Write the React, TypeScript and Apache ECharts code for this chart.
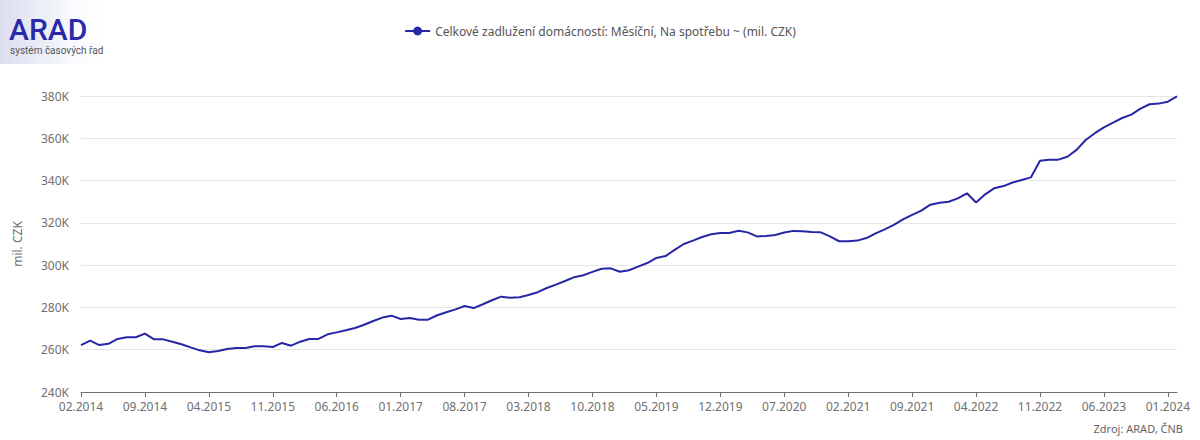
import React, { useEffect, useRef } from "react";
import * as echarts from "echarts";

const startYear = 2014;
const startMonth = 2;
const values: number[] = [
  262.2, 264.3, 262.2, 262.8, 265.1, 265.9, 265.9, 267.6, 264.9, 264.9,
  263.8, 262.6, 261.1, 259.7, 258.8, 259.4, 260.3, 260.8, 260.8, 261.6,
  261.6, 261.3, 263.2, 261.9, 263.8, 265.1, 265.1, 267.3, 268.2, 269.2,
  270.3, 271.8, 273.6, 275.2, 276.1, 274.5, 275.0, 274.2, 274.2, 276.3,
  277.7, 279.1, 280.7, 279.7, 281.5, 283.4, 285.1, 284.6, 284.8, 285.9,
  287.2, 289.2, 290.8, 292.5, 294.3, 295.2, 296.8, 298.3, 298.5, 296.9,
  297.6, 299.3, 301.0, 303.4, 304.3, 307.2, 310.0, 311.6, 313.3, 314.6,
  315.2, 315.2, 316.3, 315.5, 313.6, 313.8, 314.3, 315.4, 316.2, 316.0,
  315.7, 315.5, 313.6, 311.3, 311.3, 311.6, 312.8, 315.0, 316.9, 319.0,
  321.6, 323.8, 325.8, 328.6, 329.5, 330.0, 331.6, 334.0, 329.6, 333.5,
  336.4, 337.4, 339.1, 340.3, 341.5, 349.4, 349.9, 349.9, 351.3, 354.5,
  359.2, 362.4, 365.2, 367.4, 369.6, 371.2, 374.0, 376.1, 376.4, 377.3,
  379.8,
];

const categories: string[] = values.map((_, i) => {
  const m0 = startMonth - 1 + i;
  const y = startYear + Math.floor(m0 / 12);
  const m = (m0 % 12) + 1;
  return (m < 10 ? "0" + m : "" + m) + "." + y;
});

const seriesName = "Celkové zadlužení domácností: Měsíční, Na spotřebu ~ (mil. CZK)";
const yAxisName = "mil. CZK";
const sourceText = "Zdroj: ARAD, ČNB";
const logoTitle = "ARAD";
const logoSubtitle = "systém časových řad";

const FONT = "'Noto Sans', 'Open Sans', sans-serif";
const LINE_COLOR = "#2727a6";
const LABEL_COLOR = "#707070";

export default function App() {
  const ref = useRef<HTMLDivElement>(null);
  useEffect(() => {
    document.body.style.margin = "0";
    if (!ref.current) return;
    const chart = echarts.init(ref.current, undefined, { renderer: "svg" });
    chart.setOption({
      animation: false,
      textStyle: { fontFamily: FONT },
      grid: { left: 81, right: 23, top: 96, bottom: 48 },
      legend: {
        top: 20,
        left: "center",
        itemWidth: 25,
        itemHeight: 11,
        itemGap: 6,
        textStyle: { color: "#555", fontSize: 12, fontFamily: FONT },
        data: [seriesName],
      },
      graphic: [
        {
          type: "rect",
          left: 0,
          top: 0,
          shape: { width: 110, height: 64 },
          style: {
            fill: new echarts.graphic.LinearGradient(0, 0, 1, 0, [
              { offset: 0, color: "#dcdef0" },
              { offset: 0.45, color: "#eef0f8" },
              { offset: 1, color: "rgba(255,255,255,0)" },
            ]),
          },
          z: 0,
        },
        {
          type: "text",
          left: 9,
          top: 14,
          style: {
            text: logoTitle,
            fill: "#2a2aa8",
            font: "500 30px Roboto, sans-serif",
          },
          z: 1,
        },
        {
          type: "text",
          left: 10,
          top: 45,
          style: {
            text: logoSubtitle,
            fill: "#555",
            font: "10px Roboto, sans-serif",
          },
          z: 1,
        },
        {
          type: "text",
          right: 17,
          top: 423,
          style: {
            text: sourceText,
            fill: "#666",
            font: "11px " + FONT,
          },
        },
      ],
      xAxis: {
        type: "category",
        data: categories,
        boundaryGap: false,
        axisLine: { lineStyle: { color: "#6e7079" } },
        axisTick: { interval: 6, lineStyle: { color: "#6e7079" } },
        axisLabel: { interval: 6, color: LABEL_COLOR, fontSize: 12, margin: 8, fontFamily: FONT },
        splitLine: { show: false },
      },
      yAxis: {
        type: "value",
        min: 240,
        max: 380,
        interval: 20,
        name: yAxisName,
        nameLocation: "middle",
        nameGap: 58,
        nameRotate: 90,
        nameTextStyle: { color: LABEL_COLOR, fontSize: 12, fontFamily: FONT },
        axisLine: { show: false },
        axisTick: { show: false },
        axisLabel: {
          color: LABEL_COLOR,
          fontSize: 12,
          margin: 12,
          fontFamily: FONT,
          formatter: (v: number) => v + "K",
        },
        splitLine: { lineStyle: { color: "#e6e6e6" } },
      },
      series: [
        {
          name: seriesName,
          type: "line",
          data: values,
          symbol: "circle",
          symbolSize: 10,
          showSymbol: false,
          itemStyle: { color: LINE_COLOR },
          lineStyle: { color: LINE_COLOR, width: 2 },
        },
      ],
    });
    return () => chart.dispose();
  }, []);
  return <div ref={ref} style={{ width: 1200, height: 440 }} />;
}
